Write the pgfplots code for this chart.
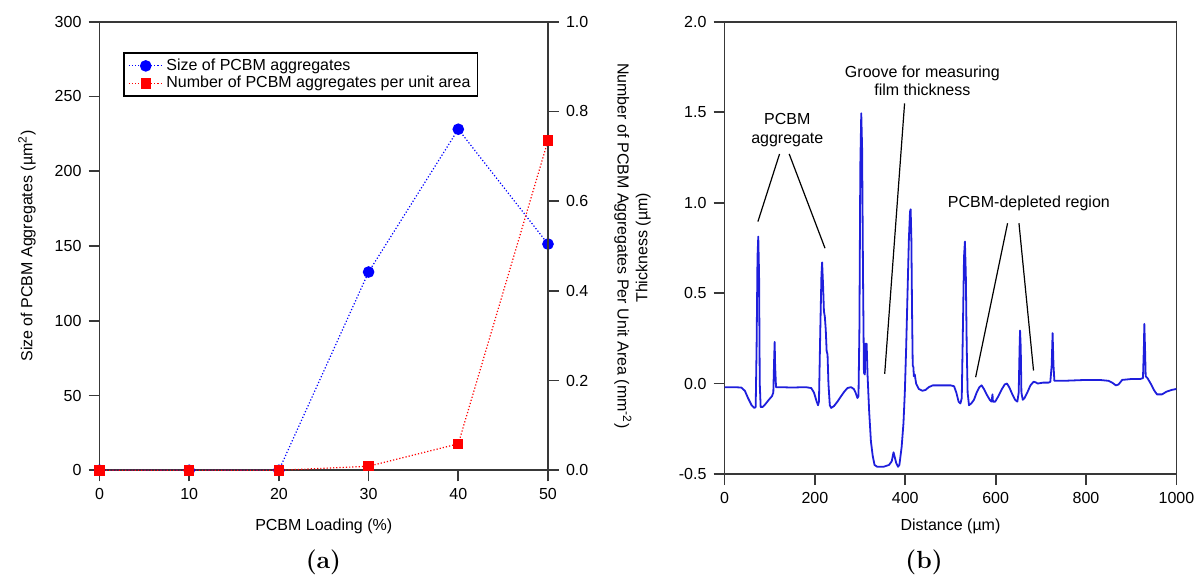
\documentclass[border=0pt]{standalone}
\usepackage{fontspec}
\usepackage{pgfplots}
\pgfplotsset{compat=1.18}
\newfontfamily\arial{Liberation Sans}
\definecolor{frame}{gray}{0.22}
\definecolor{trace}{RGB}{30,30,220}
\newcommand{\ff}{\arial\fontsize{8}{9.4}\selectfont}

\begin{document}
\begin{tikzpicture}
\path[use as bounding box] (0pt,0pt) rectangle (598.5pt,289pt);
\pgfplotsset{
 every axis/.append style={
  scale only axis,
  font=\ff,
  tick label style={font=\ff},
  label style={font=\ff},
  /pgf/number format/assume math mode=true,
  /pgf/number format/1000 sep={},
  tick align=outside,
  major tick length=5.5pt,
  axis line style={frame, line width=0.9pt},
  every tick/.style={frame, line width=0.9pt},
 }
}
% ---------------- (a) left axis
\begin{axis}[at={(49.75pt,53.85pt)}, anchor=south west, width=224.25pt, height=224.3pt,
 xmin=0, xmax=50, ymin=0, ymax=300,
 xtick={0,10,20,30,40,50}, ytick={0,50,100,150,200,250,300},
 xtick pos=bottom, ytick pos=left, clip=false,
 xlabel={PCBM Loading (\%)},
 ylabel={Size of PCBM Aggregates (µm\textsuperscript{2})},
 xlabel style={at={(axis description cs:0.5,-0.124)}, anchor=center},
 ylabel style={at={(axis description cs:-0.1617,0.5)}, anchor=center},
 legend cell align=left,
 legend style={at={(axis description cs:0.0528,0.932)}, anchor=north west,
   draw=black, line width=0.9pt, font=\ff, inner xsep=2pt, inner ysep=2pt, row sep=0pt,
   nodes={text height=6pt, text depth=1.8pt, inner ysep=0.5pt, inner xsep=1.5pt}},
]
\addplot[blue, densely dotted, line width=0.6pt, mark=*, mark size=2.6pt,
  mark options={solid, fill=blue, draw=blue}]
  coordinates {(0,0) (10,0) (20,0) (30,132.6) (40,228.1) (50,151.3)};
\addlegendentry{Size of PCBM aggregates}
\addlegendimage{red, densely dotted, line width=0.6pt, mark=square*, mark size=2.3pt,
  mark options={solid, fill=red, draw=red}}
\addlegendentry{Number of PCBM aggregates per unit area}
\end{axis}
% ---------------- (a) right axis
\begin{axis}[at={(49.75pt,53.85pt)}, anchor=south west, width=224.25pt, height=224.3pt,
 xmin=0, xmax=50, ymin=0, ymax=1,
 axis x line=none, axis y line*=right, clip=false,
 ytick={0,0.2,0.4,0.6,0.8,1},
 yticklabel style={/pgf/number format/.cd, fixed, fixed zerofill, precision=1},
 ylabel={Number of PCBM Aggregates Per Unit Area (mm\textsuperscript{-2})},
 ylabel style={at={(axis description cs:1.167,0.5)}, anchor=center, rotate=180},
]
\addplot[red, densely dotted, line width=0.6pt, mark=square*, mark size=2.3pt,
  mark options={solid, fill=red, draw=red}]
  coordinates {(0,0) (10,0) (20,0) (30,0.009) (40,0.059) (50,0.735)};
\end{axis}
% ---------------- (b)
\begin{axis}[at={(362.25pt,52pt)}, anchor=south west, width=225.95pt, height=226.15pt,
 xmin=0, xmax=1000, ymin=-0.5, ymax=2,
 xtick={0,200,400,600,800,1000}, ytick={-0.5,0,0.5,1,1.5,2},
 xtick pos=bottom, ytick pos=left,
 yticklabel style={/pgf/number format/.cd, fixed, fixed zerofill, precision=1},
 xlabel={Distance (µm)}, ylabel={Thickness (µm)},
 xlabel style={at={(axis description cs:0.5,-0.115)}, anchor=center},
 ylabel style={at={(axis description cs:-0.180,0.5)}, anchor=center},
]
\addplot[trace, line width=0.9pt, line join=round] coordinates {
(0,-0.02) (20,-0.02) (37,-0.022) (45,-0.04) (52,-0.08) (60,-0.12) (66,-0.135) (69,-0.13)
(71,0.2) (73,0.7) (74.7,0.812) (76.5,0.6) (78,0.0) (80,-0.13) (84,-0.13) (90,-0.115)
(98,-0.09) (105,-0.07) (108,-0.05) (110,0.15) (111,0.23) (112,0.1) (114,-0.02) (120,-0.02)
(150,-0.022) (180,-0.02) (192,-0.025) (198,-0.05) (204,-0.1) (207,-0.12) (209,-0.1)
(212,0.3) (214.5,0.6) (216,0.67) (218,0.55) (220,0.40) (222,0.37) (224,0.3) (226,0.18)
(228,0.16) (230,0.0) (233,-0.12) (236,-0.135) (242,-0.125) (250,-0.1) (258,-0.07)
(265,-0.045) (272,-0.025) (280,-0.02) (286,-0.03) (290,-0.05) (294,-0.08) (296.5,-0.07)
(298.5,0.3) (300.5,1.2) (302.6,1.494) (304.5,1.3) (306.5,0.6) (308.5,0.06) (310.5,0.05)
(311.5,0.22) (314.5,0.22) (316.5,0.05) (320,-0.15) (324,-0.32) (328,-0.40) (332,-0.45)
(338,-0.46) (345,-0.46) (352,-0.46) (358,-0.455) (364,-0.45) (370,-0.43) (374,-0.38)
(377,-0.41) (380,-0.44) (384,-0.46) (387,-0.45) (392,-0.35) (396,-0.22) (399,-0.05)
(402,0.2) (405,0.5) (408,0.8) (410.5,0.95) (411.9,0.963) (413.5,0.8) (415,0.4)
(416.5,0.1) (418,0.09) (419,0.04) (421,0.05) (424,0.0) (430,-0.03) (438,-0.04)
(445,-0.035) (452,-0.02) (461,-0.01) (480,-0.01) (500,-0.01) (508,-0.015) (513,-0.05)
(518,-0.1) (522,-0.11) (525,-0.08) (527.5,0.3) (530,0.7) (532,0.785) (534,0.6)
(536,0.2) (538,-0.05) (541,-0.12) (546,-0.11) (552,-0.09) (558,-0.05) (564,-0.02)
(569,-0.01) (574,-0.03) (580,-0.06) (587,-0.09) (591,-0.1) (593,-0.06) (594,-0.1)
(599,-0.1) (606,-0.07) (614,-0.03) (620,-0.005) (625,0.0) (630,-0.02) (637,-0.06)
(643,-0.09) (648,-0.1) (651,-0.05) (653,0.2) (654,0.293) (655.5,0.2) (657,-0.05)
(660,-0.09) (664,-0.08) (670,-0.05) (677,-0.01) (684,0.01) (690,0.005) (693,0.0)
(705,0.005) (717,0.005) (721,0.01) (724,0.1) (726,0.279) (728,0.1) (730,0.015)
(750,0.015) (780,0.018) (800,0.02) (830,0.02) (850,0.015) (858,0.005) (866,-0.01)
(872,-0.005) (880,0.02) (900,0.025) (920,0.025) (926,0.03) (928,0.2) (929,0.33)
(930.5,0.2) (932,0.04) (936,0.03) (943,0.0) (950,-0.035) (957,-0.06) (963,-0.06)
(968,-0.06) (978,-0.045) (990,-0.035) (1000,-0.03)
};
\node[font=\ff, align=center] at (axis cs:139,1.40) {PCBM\\aggregate};
\draw[black, line width=0.6pt] (axis cs:121.8,1.269) -- (axis cs:73.9,0.895);
\draw[black, line width=0.6pt] (axis cs:143.1,1.269) -- (axis cs:222.4,0.748);
\node[font=\ff, align=center] at (axis cs:437.8,1.673) {Groove for measuring\\film thickness};
\draw[black, line width=0.6pt] (axis cs:398.5,1.549) -- (axis cs:354.5,0.054);
\node[font=\ff, align=center] at (axis cs:673.6,0.996) {PCBM-depleted region};
\draw[black, line width=0.6pt] (axis cs:626.4,0.886) -- (axis cs:555.7,0.035);
\draw[black, line width=0.6pt] (axis cs:651.6,0.886) -- (axis cs:683.8,0.072);
\end{axis}
% captions
\node[font=\fontsize{12.4}{14}\selectfont\bfseries] at (161.7pt,8pt) {(a)};
\node[font=\fontsize{12.4}{14}\selectfont\bfseries] at (462pt,8pt) {(b)};
\end{tikzpicture}
\end{document}
